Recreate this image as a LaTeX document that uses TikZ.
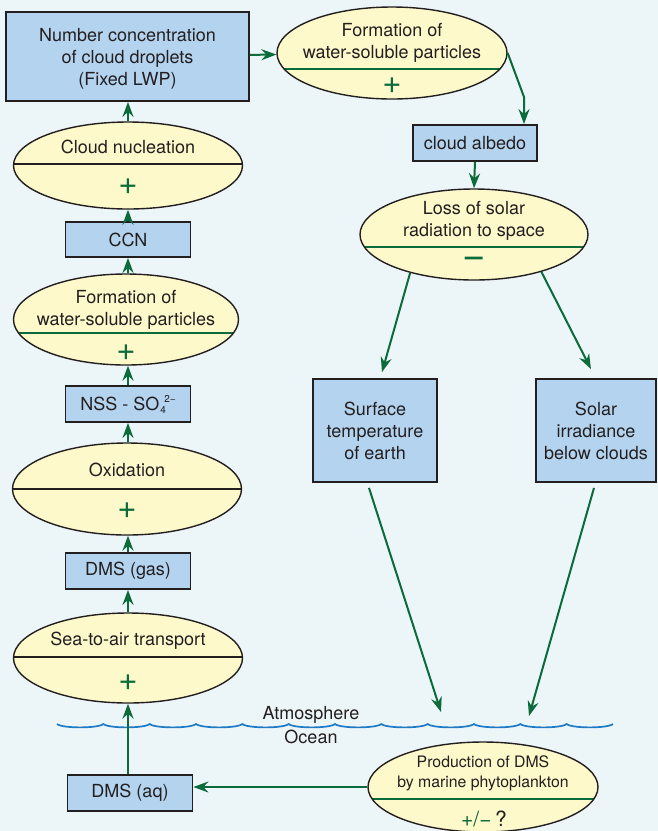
\documentclass[tikz,border=0pt]{standalone}
\usepackage{fontspec}
\setmainfont{TeX Gyre Heros}
\usetikzlibrary{arrows.meta,shapes.geometric}

\definecolor{seabg}{HTML}{ECF5F8}
\definecolor{boxblue}{HTML}{B4D3EE}
\definecolor{ovalyel}{HTML}{FEF9CA}
\definecolor{leaf}{HTML}{0B6B3A}
\definecolor{ink}{HTML}{231F20}
\definecolor{wavebl}{HTML}{1E7AC6}

\newcommand\normalsz{\fontsize{18}{22}\selectfont}
\newcommand\signsz{\fontsize{33}{33}\selectfont}
\newcommand\minussz{\fontsize{40}{40}\selectfont}
\newcommand\prodsz{\fontsize{15.8}{20}\selectfont}
\newcommand\pmsz{\fontsize{21}{21}\selectfont}
\newcommand\smallsz{\fontsize{10}{10}\selectfont}

\begin{document}
\begin{tikzpicture}[x=1pt,y=-1pt,
  >={Stealth[length=15pt,width=11pt,inset=5pt]},
  flow/.style={->,draw=leaf,line width=2pt},
  box/.style={draw=ink,fill=boxblue,line width=1.8pt,inner sep=0pt,align=center,text=ink,font=\normalsz},
  oval/.style={ellipse,draw=ink,fill=ovalyel,line width=1.4pt,inner sep=0pt},
  split/.style 2 args={path picture={\draw[#1,line width=1.5pt] ([yshift=#2]path picture bounding box.west) -- ([yshift=#2]path picture bounding box.east);}},
  txt/.style={text=ink,align=center,font=\normalsz,inner sep=0pt},
  sign/.style={text=leaf,font=\signsz,inner sep=0pt},
  wave/.style={draw=wavebl,line width=1.7pt}]
  % page and background
  \fill[seabg] (0,0) rectangle (658,831);
  \useasboundingbox (0,0) rectangle (658,831);

  % left column, from droplets down to the ocean
  \node[box,minimum width=243pt,minimum height=89pt] (drops) at (127.5,56.5) {};
  \node[txt] (dropsT) at (127.5,59) {Number concentration\\of cloud droplets\\(Fixed LWP)};
  \node[oval,split={ink}{1.5pt},minimum width=229pt,minimum height=87pt] (nucl) at (128,165.5) {};
  \node[txt] (nuclT) at (128,147) {Cloud nucleation};
  \node[sign] (nuclS) at (128,187) {+};
  \node[box,minimum width=125pt,minimum height=35pt] (ccn) at (128,239.5) {CCN};
  \node[oval,split={leaf}{-13.5pt},minimum width=225pt,minimum height=91pt] (formL) at (126,319.5) {};
  \node[txt] (formLT) at (126,310) {Formation of\\water-soluble particles};
  \node[sign] (formLS) at (126,353) {+};
  \node[box,minimum width=125pt,minimum height=36pt] (nss) at (128,404) {NSS - SO\rlap{\hspace{1pt}\raisebox{-3pt}{\smallsz 4}}\hspace{5pt}\raisebox{8pt}{\smallsz 2−}};
  \node[oval,split={ink}{0pt},minimum width=229pt,minimum height=92pt] (oxid) at (127,489) {};
  \node[txt] (oxidT) at (127,470) {Oxidation};
  \node[sign] (oxidS) at (127,511) {+};
  \node[box,minimum width=125pt,minimum height=36pt] (gas) at (128,571) {DMS (gas)};
  \node[oval,split={ink}{1pt},minimum width=229pt,minimum height=90pt] (sea) at (128,658) {};
  \node[txt] (seaT) at (128,641) {Sea-to-air transport};
  \node[sign] (seaS) at (128,683) {+};
  \node[box,minimum width=125pt,minimum height=36pt] (aq) at (130,793) {DMS (aq)};

  % right side, albedo branch
  \node[oval,split={leaf}{-16pt},minimum width=230pt,minimum height=92pt] (formR) at (392,53) {};
  \node[txt] (formRT) at (392,43) {Formation of\\water-soluble particles};
  \node[sign] (formRS) at (392,86) {+};
  \node[box,minimum width=124pt,minimum height=36pt] (albedo) at (475,143) {cloud albedo};
  \node[oval,split={leaf}{-12.5pt},minimum width=228pt,minimum height=91pt] (loss) at (474,234.5) {};
  \node[txt] (lossT) at (474,221) {Loss of solar\\radiation to space};
  \node[sign,font=\minussz] (lossS) at (474,263) {−};
  \node[box,minimum width=124pt,minimum height=103pt] (surf) at (375,430.5) {Surface\\temperature\\of earth};
  \node[box,minimum width=120pt,minimum height=103pt] (solar) at (596,430.5) {Solar\\irradiance\\below clouds};
  \node[oval,split={leaf}{-12pt},minimum width=230pt,minimum height=90pt] (prod) at (483,787) {};
  \node[txt,font=\prodsz] (prodT) at (483,773) {Production of DMS\\by marine phytoplankton};
  \node[txt,font=\pmsz] (prodS) at (484,819) {\textcolor{leaf}{+/−}\,?};

  % sea surface
  \draw[wave] (57,724) foreach \k in {0,...,11}{ .. controls ({57+46.33*\k+5},728.5) and ({57+46.33*(\k+1)-5},728.5) .. ({57+46.33*(\k+1)},724) };
  \node[txt] (atmo) at (311,715) {Atmosphere};
  \node[txt] (ocean) at (311,737) {Ocean};

  % connectors
  \draw[flow] (nucl.north) -- (nucl.north |- drops.south);
  \draw[flow] (ccn.north) -- (nucl.south);
  \draw[flow] (ccn.south |- formL.north) -- (ccn.south);
  \draw[flow] (nss.north) -- (nss.north |- formL.south);
  \draw[flow] (nss.south |- oxid.north) -- (nss.south);
  \draw[flow] (gas.north) -- (gas.north |- oxid.south);
  \draw[flow] (sea.north) -- (gas.south);
  \draw[flow] (sea.south |- aq.north) -- (sea.south);
  \draw[flow] (prod.west) -- (prod.west -| aq.east);
  \draw[flow] (drops) -- (formR);
  \coordinate (bend) at (524,97);
  \draw[flow] (formR.east) -- (bend) -- (bend |- albedo.north);
  \draw[flow] (albedo.south) -- (loss.north);
  \draw[flow] (loss.211) -- ([xshift=7pt,yshift=6pt]surf.north);
  \draw[flow] (loss.331) -- ([xshift=-5pt,yshift=9pt]solar.north);
  \coordinate (sinkL) at (441,712);
  \coordinate (sinkR) at (529,716);
  \draw[flow] ([xshift=-6pt,yshift=-5pt]surf.south) -- (sinkL);
  \draw[flow] ([xshift=-2pt,yshift=-5pt]solar.south) -- (sinkR);
\end{tikzpicture}
\end{document}
